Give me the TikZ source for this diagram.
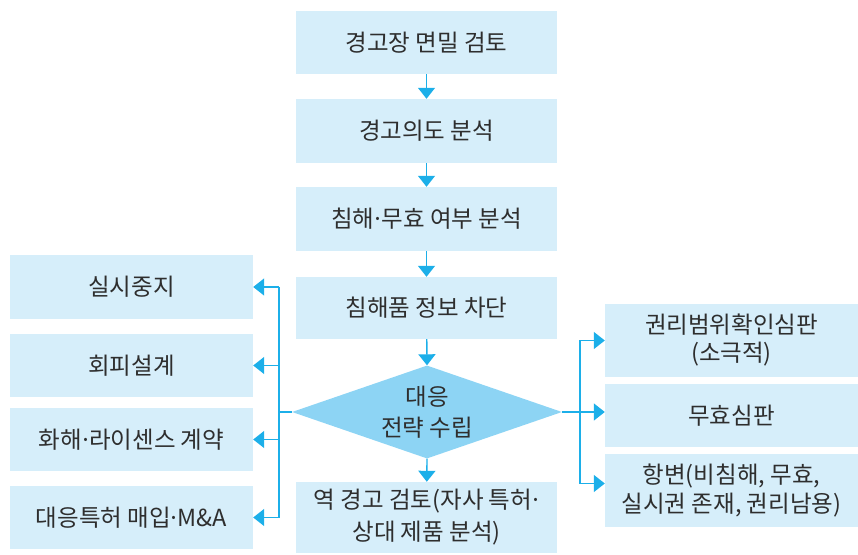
\documentclass[tikz,border=0pt]{standalone}
\usepackage{fontspec}
\setmainfont{Noto Sans CJK KR}
\usetikzlibrary{arrows.meta,shapes.geometric,calc}
\definecolor{boxfill}{HTML}{D6EEFA}
\definecolor{diafill}{HTML}{8DD4F4}
\definecolor{arrowc}{HTML}{1CAFE9}
\definecolor{txt}{HTML}{2E2E2E}
\newcommand{\mdt}{\kern-0.13em·\kern-0.13em}
\begin{document}
\begin{tikzpicture}[x=1pt,y=1pt,
  box/.style={rectangle,fill=boxfill,inner sep=0pt,align=center,text=txt,
    font=\fontsize{23.5}{30}\selectfont},
  dia/.style={diamond,fill=diafill,inner sep=0pt,align=center,text=txt},
  conn/.style={draw=arrowc,line width=1.4pt},
  arr/.style={conn,-{Triangle[length=11pt,width=17pt]}}]
\useasboundingbox (0,0) rectangle (858,554);
% centre column
\node[box,minimum width=261pt,minimum height=63pt] (c1) at (426.5,511.5) {경고장 면밀 검토};
\node[box,minimum width=261pt,minimum height=64pt] (c2) at (426.5,423) {경고의도 분석};
\node[box,minimum width=261pt,minimum height=64pt] (c3) at (426.5,335) {침해\mdt 무효 여부 분석};
\node[box,minimum width=261pt,minimum height=62pt] (c4) at (426.5,246) {침해품 정보 차단};
\node[dia,minimum width=270pt,minimum height=93pt,shape aspect=2.9] (d) at (427,142) {};
\node[text=txt,align=center,font=\fontsize{23.5}{31}\selectfont] (dt) at (427,142) {대응\\전략 수립};
\node[box,minimum width=261pt,minimum height=71pt,font=\fontsize{23.5}{32}\selectfont] (c5) at (426.5,36.5) {역 경고 검토(자사 특허\mdt\\상대 제품 분석)};
% left column
\node[box,minimum width=243pt,minimum height=64pt] (l1) at (131.5,267) {실시중지};
\node[box,minimum width=243pt,minimum height=63pt] (l2) at (131.5,188.5) {회피설계};
\node[box,minimum width=243pt,minimum height=63pt] (l3) at (131.5,114.5) {화해\mdt 라이센스 계약};
\node[box,minimum width=243pt,minimum height=63pt] (l4) at (131.5,36.5) {대응특허 매입\mdt M\&A};
% right column
\node[box,minimum width=253pt,minimum height=73pt,font=\fontsize{23.5}{28}\selectfont] (r1) at (731.5,213.5) {권리범위확인심판\\(소극적)};
\node[box,minimum width=253pt,minimum height=63pt] (r2) at (731.5,138.5) {무효심판};
\node[box,minimum width=253pt,minimum height=73pt,font=\fontsize{23.5}{29}\selectfont] (r3) at (731.5,63.5) {항변(비침해, 무효,\\실시권 존재, 권리남용)};
% vertical flow
\draw[arr] (c1) -- (c2);
\draw[arr] (c2) -- (c3);
\draw[arr] (c3) -- (c4);
\draw[arr] (c4) -- (d.north);
\draw[arr] (d.south) -- (c5);
% left branch
\coordinate (lj) at (279,142);
\draw[conn] (d.west) -- (lj);
\draw[conn] (lj |- l1) -- (lj |- l4);
\draw[arr] (lj |- l1) -- (l1.east);
\draw[arr] (lj |- l2) -- (l2.east);
\draw[arr] (lj |- l3) -- (l3.east);
\draw[arr] (lj |- l4) -- (l4.east);
% right branch
\coordinate (rj) at (580,142);
\coordinate (r3a) at ($(r3.west)+(0,7)$);
\draw[arr] (d.east) -- (d.east -| r2.west);
\draw[conn] (rj |- r1) -- (rj |- r3a);
\draw[arr] (rj |- r1) -- (r1.west);
\draw[arr] (rj |- r3a) -- (r3a);
\end{tikzpicture}
\end{document}
